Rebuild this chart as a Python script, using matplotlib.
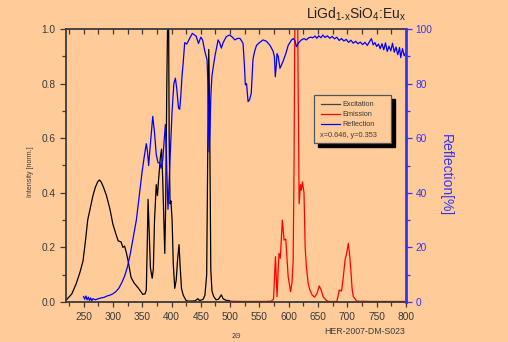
import matplotlib.pyplot as plt
from matplotlib.patches import Rectangle
from matplotlib.ticker import MultipleLocator

#data
#excitation (black), normalized intensity
exc_nm = [220, 230, 237, 244, 249, 253, 257, 262, 266, 270, 274, 277, 280, 284, 289, 295,
          300, 305, 309, 314, 317, 320, 323, 326, 331, 336, 343, 351, 355, 357, 358.5, 360,
          362, 364, 367, 369, 371, 374, 376, 378, 381, 383, 385, 388.5, 390, 392, 393.5, 395,
          396, 397.5, 399, 401, 403, 405.5, 408, 410.5, 412.8, 414.5, 417, 420, 425, 430,
          440, 445, 448, 454, 457, 460, 462, 463.5, 465, 467, 469, 472, 476, 480, 485, 488,
          493, 499]
exc_int = [0.006, 0.03, 0.065, 0.11, 0.15, 0.22, 0.30, 0.35, 0.39, 0.42, 0.44, 0.447, 0.44, 0.42, 0.39, 0.34,
           0.285, 0.25, 0.224, 0.22, 0.20, 0.205, 0.18, 0.15, 0.09, 0.07, 0.052, 0.028, 0.03, 0.045, 0.2, 0.376,
           0.25, 0.126, 0.087, 0.12, 0.3, 0.43, 0.39, 0.45, 0.53, 0.56, 0.45, 0.178, 0.35, 0.8, 1.05, 1.05,
           0.6, 0.36, 0.37, 0.3, 0.14, 0.05, 0.08, 0.16, 0.21, 0.14, 0.05, 0.025, 0.005, 0.003,
           0.004, 0.012, 0.005, 0.01, 0.025, 0.1, 0.6, 0.925, 0.7, 0.12, 0.04, 0.02, 0.008, 0.01, 0.026, 0.012,
           0.006, 0.005]

#emission (red), normalized intensity
em_nm = [500, 520, 560, 570, 574, 577.3, 580, 582, 583.4, 585.6, 589, 592, 595, 597, 599, 603,
         605.5, 607.5, 609, 610, 611, 615, 616, 617.7, 620, 621.5, 623.4, 626, 628, 630, 633, 636,
         640, 644, 648, 652, 655, 659, 664, 668, 682, 685, 686, 690, 693, 696, 699, 701.5,
         703.5, 705.5, 708, 710, 716, 740, 800]
em_int = [0.003, 0.002, 0.002, 0.003, 0.01, 0.166, 0.02, 0.12, 0.178, 0.16, 0.30, 0.227, 0.23, 0.16, 0.093, 0.038,
          0.07, 0.154, 0.5, 0.9, 1.1, 1.1, 0.8, 0.36, 0.43, 0.41, 0.44, 0.40, 0.2, 0.13, 0.07, 0.044,
          0.025, 0.018, 0.03, 0.059, 0.045, 0.018, 0.006, 0.002, 0.002, 0.03, 0.044, 0.04, 0.09, 0.154, 0.18, 0.215,
          0.18, 0.13, 0.05, 0.02, 0.003, 0.002, 0.002]

#reflection (blue), percent
ref_nm = [250, 252, 254, 256, 258, 260, 262, 264, 266, 270, 275, 280, 285, 290, 295, 300,
          305, 310, 315, 320, 325, 330, 335, 340, 345, 350, 354, 357, 359, 361, 364, 368,
          371, 374, 377, 380, 382, 385, 389.5, 391, 393, 394, 396, 398, 401, 404, 406.6, 409,
          412, 414, 416, 418, 419.7, 422.5, 426, 431, 435.6, 438, 442, 446, 450, 453, 456.7, 460.7,
          462, 463, 464, 465.5, 467, 469, 474, 479.5, 482, 485, 488, 493.5, 499, 504, 508, 512,
          516.5, 520, 522, 524, 526, 528, 530.6, 533, 536, 539, 542, 545, 550, 556, 562, 568,
          573, 575.5, 577, 578.5, 580, 582, 585, 588, 590, 595, 599, 604.7, 608, 611, 613, 617,
          621.6, 626, 630, 634, 638, 641, 645, 648, 651, 655, 658, 662, 666, 670, 674, 678,
          682, 686, 690, 694, 698, 702, 706, 710, 714, 718, 722, 726, 730, 734, 738, 741,
          744, 747, 750, 753, 756, 759, 762, 765, 768, 771, 774, 777, 780, 783, 786, 789,
          791, 794, 797, 800]
ref_pct = [2.0, 1.0, 2.2, 0.8, 1.8, 0.6, 1.5, 0.5, 1.2, 0.8, 1.2, 1.5, 1.7, 2.2, 2.5, 3,
           3.8, 5, 7, 9.5, 13, 18, 24, 30, 39, 48, 54, 58, 55, 50, 58, 68,
           62, 54, 51, 51, 49, 52, 65, 56, 40, 34, 45, 55, 70, 80, 82, 78,
           71, 70.6, 76, 83, 87, 95, 94.5, 96.6, 98.4, 98, 97.4, 94.7, 97, 96, 92, 88.6,
           80, 65, 55, 62, 75, 83, 90, 96, 95, 93, 95, 97.2, 97.8, 97, 96, 96.5,
           96.6, 95.5, 94.7, 88, 79.5, 80, 73.4, 74, 76.4, 89, 92, 94, 95, 96, 95.5, 94,
           92, 90, 82.5, 86, 91, 90, 85.6, 87, 88, 91, 94, 96, 96.5, 95.5, 93.5, 95,
           96, 96.5, 96, 96.8, 97, 96.8, 97.4, 96.6, 97.5, 96.8, 97.8, 96.9, 97.5, 96.6, 97.3, 96.4,
           97.0, 95.8, 96.5, 95.6, 96.2, 95.1, 95.9, 94.8, 95.5, 94.6, 95.2, 94.3, 95.1, 94.0, 95.4, 96.5,
           94.2, 95.0, 93.6, 94.5, 92.8, 94.6, 92.4, 94.9, 91.8, 93.7, 92.0, 94.8, 91.5, 93.4, 90.6, 93.2,
           89.5, 92.8, 90.2, 91.5]

bg = "#FFCC99"
dark = "#3a3a3a"
blue_ax = "#3333FF"

plt.rcParams['font.family'] = ['Liberation Sans', 'DejaVu Sans']
plt.rcParams['mathtext.fontset'] = 'custom'
plt.rcParams['mathtext.rm'] = 'Liberation Sans'

fig = plt.figure(figsize=(5.08, 3.42), dpi=100, facecolor=bg)
ax = fig.add_axes([66/508, 1 - 302/342, 340/508, 273/342])
ax.set_facecolor(bg)

#curves
ax.plot(exc_nm, exc_int, color="black", lw=0.9)
ax.plot(em_nm, em_int, color="red", lw=0.9)

ax2 = ax.twinx()
ax2.plot(ref_nm, ref_pct, color="blue", lw=0.9)

#axes limits and ticks
ax.set_xlim(220, 800)
ax.set_ylim(0, 1.0)
ax2.set_ylim(0, 100)
ax.xaxis.set_minor_locator(MultipleLocator(25))
ax.yaxis.set_minor_locator(MultipleLocator(0.1))
ax2.yaxis.set_major_locator(MultipleLocator(20))
ax2.yaxis.set_minor_locator(MultipleLocator(10))
ax.set_xticks([250, 300, 350, 400, 450, 500, 550, 600, 650, 700, 750, 800])
ax.set_yticks([0, 0.2, 0.4, 0.6, 0.8, 1.0])
ax.set_yticklabels(["0.0", "0.2", "0.4", "0.6", "0.8", "1.0"])

ax.tick_params(axis="x", which="both", direction="out", top=False, colors=dark,
               labelsize=7.3, pad=4)
ax.tick_params(axis="x", which="major", length=3.5, width=0.9)
ax.tick_params(axis="x", which="minor", length=3, width=0.9)
ax.tick_params(axis="y", which="both", direction="out", right=False, colors=dark,
               labelsize=7.3, pad=3)
ax.tick_params(axis="y", which="major", length=4.5, width=0.9)
ax.tick_params(axis="y", which="minor", length=3, width=0.9)

#inward ticks on top
top = ax.secondary_xaxis("top")
top.xaxis.set_major_locator(MultipleLocator(50))
top.xaxis.set_minor_locator(MultipleLocator(25))
top.tick_params(axis="x", which="both", direction="in", labeltop=False, colors=dark,
                length=3.5, width=0.9)
top.spines["top"].set_visible(False)

ax2.tick_params(axis="y", which="both", direction="out", colors=blue_ax, labelsize=7.3, pad=3)
ax2.tick_params(axis="y", which="major", length=4, width=0.9)
ax2.tick_params(axis="y", which="minor", length=3, width=0.9)

for s in ["left", "bottom", "top"]:
    ax.spines[s].set_color(dark)
    ax.spines[s].set_linewidth(1.3)
    ax2.spines[s].set_visible(False)
ax.spines["right"].set_visible(False)
ax2.spines["right"].set_color(blue_ax)
ax2.spines["right"].set_linewidth(2)

#labels
fig.text(30/508, 1 - 172/342, "Intensity [norm.]", rotation=90, fontsize=5,
         color=dark, ha="center", va="center")
fig.text(446/508, 1 - 175/342, "Reflection[%]", rotation=-90, fontsize=10,
         color=blue_ax, ha="center", va="center")
fig.text(236/508, 1 - 336/342, "2Θ", fontsize=5, color=dark, ha="center", va="center")
fig.text(365/508, 1 - 332/342, "HER-2007-DM-S023", fontsize=6.3, color=dark,
         ha="center", va="center")
fig.text(406/508, 1 - 18.5/342,
         r"LiGd$_{\mathregular{1\text{-}x}}$SiO$_{\mathregular{4}}$:Eu$_{\mathregular{x}}$",
         fontsize=10, color="#222222", ha="right", va="baseline")

#legend box with black shadow
x0, x1 = (314 - 66)/340, (391 - 66)/340
y0, y1 = (302 - 143)/273, (302 - 95)/273
ax2.add_patch(Rectangle((x0 + 4/340, y0 - 4/273), x1 - x0, y1 - y0, transform=ax2.transAxes,
                        facecolor="black", edgecolor="black", zorder=5, clip_on=False))
ax2.add_patch(Rectangle((x0, y0), x1 - x0, y1 - y0, transform=ax2.transAxes,
                        facecolor=bg, edgecolor="#555555", lw=0.9, zorder=6, clip_on=False))
leg_names = ["Excitation", "Emission", "Reflection"]
leg_colors = ["#444444", "red", "blue"]
leg_rows = [104, 114, 124.3]
for name, c, r in zip(leg_names, leg_colors, leg_rows):
    yy = (302 - r)/273
    ax2.plot([(320.7 - 66)/340, (340 - 66)/340], [yy, yy], color=c, lw=0.9,
             transform=ax2.transAxes, zorder=7, clip_on=False)
    ax2.text((342 - 66)/340, yy, name, fontsize=5.3, color=dark, va="center",
             transform=ax2.transAxes, zorder=7)
ax2.text((320 - 66)/340, (302 - 135.3)/273, "x=0.646, y=0.353", fontsize=5.3, color=dark,
         va="center", transform=ax2.transAxes, zorder=7)

plt.savefig("out.png", dpi=100, facecolor=bg)
